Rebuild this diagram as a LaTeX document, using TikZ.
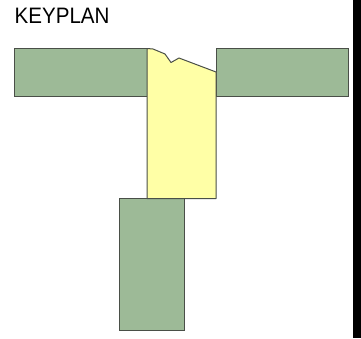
\documentclass[tikz,border=0pt]{standalone}
\usepackage{fontspec}
\setmainfont{Liberation Sans}
\newfontfamily\planfont[FakeStretch=0.92]{Liberation Sans}
\definecolor{wing}{HTML}{9DBA97}
\definecolor{core}{HTML}{FFFFA6}
\definecolor{edge}{HTML}{4A4F48}
\tikzset{
  wingbox/.style={draw=edge, fill=wing, line width=0.05cm},
  corebox/.style={draw=edge, fill=core, line width=0.05cm, line join=round}
}
\begin{document}
\begin{tikzpicture}[x=0.05cm, y=-0.05cm]
\useasboundingbox (0,0) rectangle (361,338);

\node [anchor=base west, inner sep=0, font=\planfont\fontsize{31.8pt}{34pt}\selectfont] (keyplan) at (14.5,24) {KEYPLAN};

\draw [wingbox] (14.5,48.5) rectangle (147,96);
\draw [wingbox] (216,48.5) rectangle (348,96);
\draw [wingbox] (119,198.5) rectangle (184,330);

\draw [corebox] (147,48.5) -- (153,49) -- (165,54) -- (171,62.5) -- (179,58) -- (216,72) -- (216,198.5) -- (147,198.5) -- cycle;

\fill [black] (353,0) rectangle (361,338);
\end{tikzpicture}
\end{document}
